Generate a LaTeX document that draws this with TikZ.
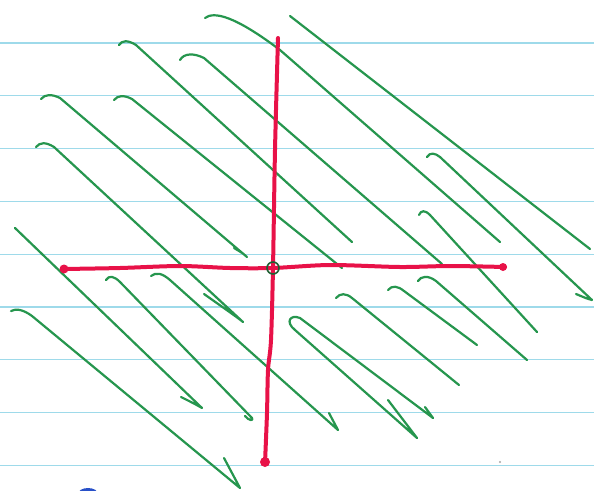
\documentclass[tikz,border=0pt]{standalone}
\usetikzlibrary{calc}

\definecolor{ruleblue}{RGB}{158,218,234}
\definecolor{pengreen}{RGB}{38,150,78}
\definecolor{axisred}{RGB}{232,18,72}
\definecolor{dotgreen}{RGB}{30,95,50}
\definecolor{inkblue}{RGB}{40,80,200}

\begin{document}
\begin{tikzpicture}[x=1pt,y=-1pt,
  ruling/.style={ruleblue,line width=1.1pt},
  pen/.style={pengreen,line width=2.2pt,line cap=round,line join=round},
  axis/.style={axisred,line width=4pt,line cap=round,line join=round}]

% Paper
\fill[white] (0,0) rectangle (594,490);
\useasboundingbox (0,0) rectangle (594,490);
\clip (0,0) rectangle (594,490);

% Ruled lines
\foreach \k in {0,...,8}
  \draw[ruling] (0,{43+52.8*\k}) -- (594,{43+52.8*\k});

% Hatching, upper half
\draw[pen] (205,18) .. controls (214,11) and (235,16) .. (280,50) -- (500,242);
\draw[pen] (290,16) -- (590,249);
\draw[pen] (119,45) .. controls (122,40) and (128,40) .. (136,45) -- (352,242);
\draw[pen] (180,60) .. controls (184,53) and (194,53) .. (204,58) -- (442,264);
\draw[pen] (41,99) .. controls (45,94) and (52,94) .. (60,98) -- (247,257)
  .. controls (244,254) .. (234,248);
\draw[pen] (114,100) .. controls (118,95) and (124,95) .. (132,99) -- (342,268);
\draw[pen] (36,147) .. controls (40,142) and (46,142) .. (54,147) -- (243,322)
  .. controls (238,318) .. (204,294);
\draw[pen] (427,157) .. controls (430,152) and (435,153) .. (440,157) -- (592,300)
  .. controls (588,299) .. (576,294);
\draw[pen] (419,215) .. controls (421,210) and (425,210) .. (430,215) -- (537,332);

% Hatching, lower half
\draw[pen] (15,228) -- (202,408) .. controls (195,404) .. (181,397);
\draw[pen] (11,311) .. controls (16,308) and (24,310) .. (32,316) -- (240,488) -- (224,458);
\draw[pen] (106,280) .. controls (109,275) and (114,276) .. (120,282) -- (252,418)
  .. controls (254,421) and (249,421) .. (245,416);
\draw[pen] (151,276) .. controls (156,272) and (162,273) .. (170,280) -- (338,430) -- (329,413);
\draw[pen] (388,400) -- (417,438) -- (295,330)
  .. controls (285,322) and (290,314) .. (300,318) -- (433,418) -- (425,407);
\draw[pen] (336,298) .. controls (340,293) and (346,293) .. (352,298) -- (459,385);
\draw[pen] (388,290) .. controls (392,285) and (398,286) .. (404,291) -- (477,345);
\draw[pen] (418,281) .. controls (421,276) and (428,275) .. (436,281) -- (527,360);

% Axes
\draw[axis] plot[smooth] coordinates {(63,269) (120,268) (180,266) (230,268)
  (273,268) (330,265) (400,267) (450,266) (505,267)};
\draw[axis] plot[smooth] coordinates {(278,38) (275,150) (273,268) (271,340)
  (268,370) (267,413) (265,463)};
\fill[axisred] (64,269) circle (4.5);
\fill[axisred] (503,267) circle (4);
\fill[axisred] (265,462) circle (5);

% Origin
\draw[dotgreen,line width=1.6pt] (273,268) circle (6);

% Stray marks
\fill[inkblue] (88,494) ellipse (10 and 6);
\fill[gray!70] (500,462) circle (1.2);

\end{tikzpicture}
\end{document}
